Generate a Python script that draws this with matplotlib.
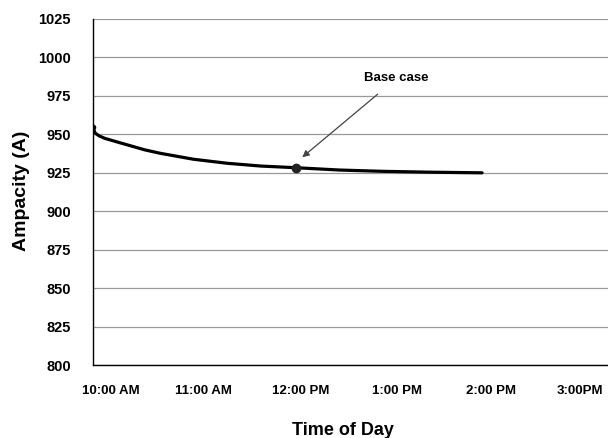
import matplotlib.pyplot as plt

plt.rcParams['font.family'] = ['Liberation Sans', 'DejaVu Sans']

# time in hours since midnight, ampacity in amps
horas = [10.0, 10.02, 10.06, 10.115, 10.25, 10.33, 10.51, 10.66, 10.99, 11.32,
         11.65, 12.0, 12.43, 12.83, 13.32, 13.83]
ampacidade = [954.5, 950.8, 949.0, 947.4, 944.8, 943.3, 939.9, 937.7, 933.8,
              931.2, 929.4, 928.3, 926.8, 926.0, 925.4, 925.0]

base_hora = 12.0
base_valor = 928.3

tick_pos = [10.177, 11.084, 12.049, 12.99, 13.916, 14.798]
tick_labels = ['10:00 AM', '11:00 AM', '12:00 PM', '1:00 PM', '2:00 PM', '3:00PM']
y_ticks = list(range(800, 1026, 25))


def plotar():
    fig = plt.figure(figsize=(6.08, 4.38), dpi=100)
    ax = fig.add_axes([0.153, 0.166, 0.847, 0.791])

    ax.plot(horas, ampacidade, color='black', lw=2.3, solid_capstyle='round',
            solid_joinstyle='round', zorder=3)
    ax.plot([horas[0]], [ampacidade[0]], 'o', color='black', ms=3, zorder=4)
    ax.plot([base_hora], [base_valor], 'o', color='#222222', ms=6, zorder=4)

    ax.annotate('Base case', xy=(12.06, 935.1), xytext=(12.99, 986.4),
                ha='center', va='center', fontsize=9.5, fontweight='bold',
                arrowprops=dict(arrowstyle='-|>', color='#444444', lw=0.9,
                                mutation_scale=10, shrinkA=8, shrinkB=0))

    ax.set_xlim(10, 15.07)
    ax.set_ylim(800, 1025)
    ax.set_yticks(y_ticks)
    ax.set_xticks(tick_pos)
    ax.set_xticklabels(tick_labels)
    ax.yaxis.grid(True, color='#999999', lw=0.9)
    ax.set_axisbelow(True)

    for s in ['top', 'right']:
        ax.spines[s].set_visible(False)
    ax.spines['left'].set_linewidth(1.0)
    ax.spines['bottom'].set_linewidth(1.0)

    ax.tick_params(axis='y', length=0, pad=16, labelsize=10.5)
    ax.tick_params(axis='x', length=0, pad=14, labelsize=9.5)
    for lbl in ax.get_xticklabels() + ax.get_yticklabels():
        lbl.set_fontweight('bold')

    ax.set_xlabel('Time of Day', fontsize=13, fontweight='bold', va='center')
    ax.xaxis.set_label_coords(0.486, -0.188)
    ax.set_ylabel('Ampacity (A)', fontsize=14, fontweight='bold', va='center')
    ax.yaxis.set_label_coords(-0.138, 0.503)

    fig.savefig('out.png', dpi=100)


if __name__ == '__main__':
    plotar()
